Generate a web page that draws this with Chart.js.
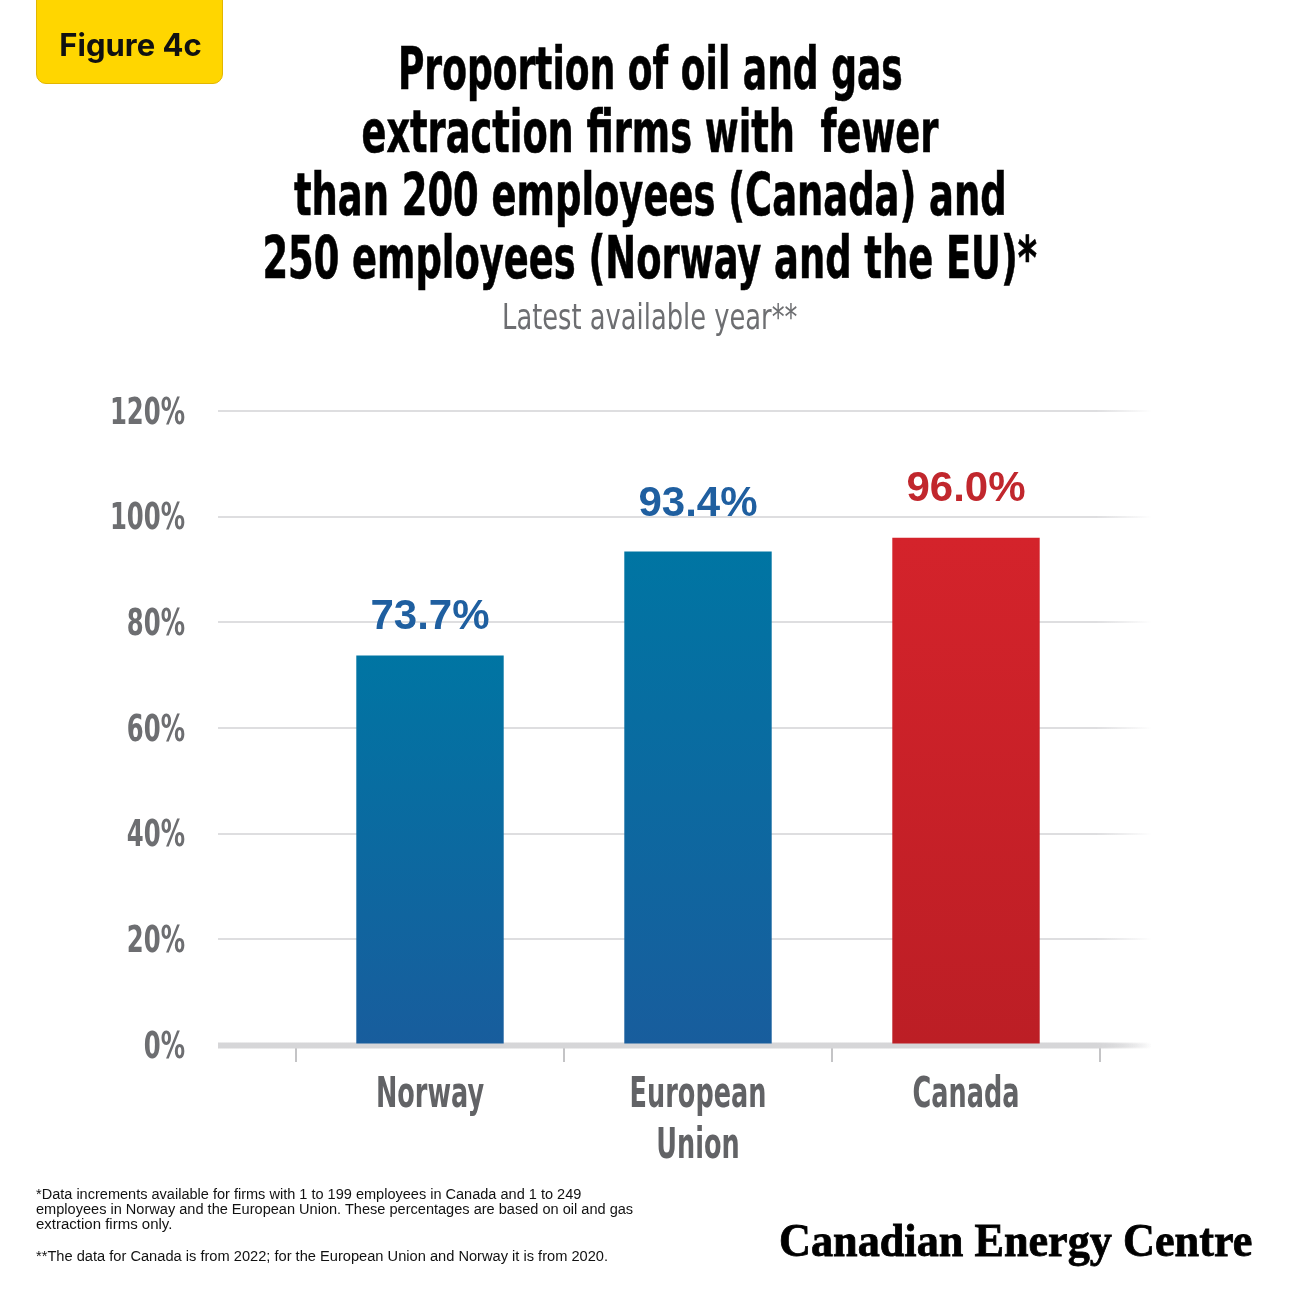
<!DOCTYPE html>
<html>
<head>
<meta charset="utf-8">
<script src="https://cdn.jsdelivr.net/npm/chart.js@4.4.1/dist/chart.umd.min.js"></script>
<style>
  html, body { margin: 0; padding: 0; background: #fff; }
  #page { position: relative; width: 1300px; height: 1300px; overflow: hidden; background: #fff; }
  #chartBox { position: absolute; left: 0; top: 0; width: 1300px; height: 1300px; }
  .abs { position: absolute; white-space: nowrap; }
  .center { left: 0; width: 1300px; text-align: center; }
  .fit { display: inline-block; }
  .fitL { display: inline-block; transform-origin: left center; }
  #badge { left: 36px; top: -12px; width: 187px; height: 96px; background: #ffd600; border: 1px solid #e3b600; border-radius: 10px; box-sizing: border-box; }
  #badgeText { left: 36px; top: 26px; width: 189px; text-align: center; font-family: Inter, "Liberation Sans", sans-serif; font-weight: 700; font-size: 31px; color: #111; }
  .title { font-family: "DejaVu Sans Condensed", "Liberation Sans", sans-serif; font-weight: 700; font-size: 58px; line-height: 63px; color: #000; -webkit-text-stroke: 0.6px #000; }
  .sub { font-family: "DejaVu Sans Condensed", "Liberation Sans", sans-serif; font-weight: 400; font-size: 36px; color: #6d6e71; }
  .foot { font-family: "Liberation Sans", Arial, sans-serif; font-size: 14px; line-height: 15px; color: #111; left: 36px; }
  #logo { font-family: "Liberation Serif", "DejaVu Serif", serif; font-weight: 700; font-size: 46px; color: #000; left: 779px; top: 1214px; -webkit-text-stroke: 0.8px #000; }
</style>
</head>
<body>
<div id="page">
  <div id="chartBox"><canvas id="c" width="1300" height="1300"></canvas></div>
  <div id="badge" class="abs"></div>
  <div id="badgeText" class="abs">Figure 4c</div>

  <div class="abs center title" style="top:38px"><span class="fit" data-w="505">Proportion of oil and gas</span></div>
  <div class="abs center title" style="top:101px"><span class="fit" data-w="577">extraction firms with&nbsp; fewer</span></div>
  <div class="abs center title" style="top:164px"><span class="fit" data-w="713">than 200 employees (Canada) and</span></div>
  <div class="abs center title" style="top:227px"><span class="fit" data-w="775">250 employees (Norway and the EU)*</span></div>
  <div class="abs center sub" style="top:296px"><span class="fit" data-w="295">Latest available year**</span></div>

  <div class="abs foot" style="top:1187px"><span class="fitL" data-w="545">*Data increments available for firms with 1 to 199 employees in Canada and 1 to 249</span></div>
  <div class="abs foot" style="top:1202px"><span class="fitL" data-w="597">employees in Norway and the European Union. These percentages are based on oil and gas</span></div>
  <div class="abs foot" style="top:1217px"><span class="fitL" data-w="136">extraction firms only.</span></div>
  <div class="abs foot" style="top:1249px"><span class="fitL" data-w="572">**The data for Canada is from 2022; for the European Union and Norway it is from 2020.</span></div>

  <div id="logo" class="abs"><span class="fitL" data-w="473">Canadian Energy Centre</span></div>
</div>

<script>
// ---- data ----
const categories = [['Norway'], ['European', 'Union'], ['Canada']];
const values = [73.7, 93.4, 96.0];
const valueLabels = ['73.7%', '93.4%', '96.0%'];
const yTicks = [0, 20, 40, 60, 80, 100, 120];
const yTickLabels = ['0%', '20%', '40%', '60%', '80%', '100%', '120%'];

// ---- styles ----
const blueTop = '#0075a3', blueBottom = '#185d9d';
const redTop = '#d4232b', redBottom = '#bc1e25';
const labelColors = ['#1f5fa0', '#1f5fa0', '#c1272d'];
const labelGaps = [27, 36, 37];

function fitTexts() {
  document.querySelectorAll('.fit, .fitL').forEach(el => {
    const target = parseFloat(el.dataset.w);
    const w = el.offsetWidth;
    if (w > 0) el.style.transform = 'scaleX(' + (target / w) + ')';
  });
}

// condense axis tick labels (narrow display face not installed)
const condensePlugin = {
  id: 'condense',
  beforeDraw(chart) {
    const ctx = chart.ctx;
    if (ctx.__origFill) return;
    const orig = ctx.fillText;
    ctx.__origFill = orig;
    ctx.fillText = function (text, x, y, mw) {
      if (!ctx.__condense) return orig.call(ctx, text, x, y, mw);
      const sx = ctx.textAlign === 'right' ? 0.73 : 0.66;
      const dy = ctx.textAlign === 'right' ? 3 : 0;
      ctx.save();
      ctx.translate(x, y + dy);
      ctx.scale(sx, 1);
      orig.call(ctx, text, 0, 0);
      ctx.restore();
    };
    ctx.__condense = true;
  },
  beforeDatasetsDraw(chart) { chart.ctx.__condense = false; },
  afterDatasetsDraw(chart) { chart.ctx.__condense = false; }
};

const gridPlugin = {
  id: 'extGrid',
  beforeDatasetsDraw(chart) {
    const ctx = chart.ctx;
    const y = chart.scales.y;
    const x0 = 218, x1 = 1152;
    ctx.save();
    yTicks.forEach(v => {
      const py = Math.round(y.getPixelForValue(v));
      const g = ctx.createLinearGradient(x0, 0, x1, 0);
      const col = v === 0 ? '214,214,216' : '222,222,224';
      g.addColorStop(0, 'rgba(' + col + ',1)');
      g.addColorStop(0.94, 'rgba(' + col + ',1)');
      g.addColorStop(1, 'rgba(' + col + ',0)');
      ctx.strokeStyle = g;
      ctx.lineWidth = v === 0 ? 5 : 2;
      ctx.beginPath();
      ctx.moveTo(x0, py);
      ctx.lineTo(x1, py);
      ctx.stroke();
    });
    ctx.restore();
  },
  afterDatasetsDraw(chart) {
    const ctx = chart.ctx;
    const meta = chart.getDatasetMeta(0);
    const y = chart.scales.y;
    const py0 = Math.round(y.getPixelForValue(0));
    ctx.save();
    const g = ctx.createLinearGradient(218, 0, 1152, 0);
    g.addColorStop(0, 'rgba(214,214,216,1)');
    g.addColorStop(0.94, 'rgba(214,214,216,1)');
    g.addColorStop(1, 'rgba(214,214,216,0)');
    ctx.strokeStyle = g;
    ctx.lineWidth = 5;
    ctx.beginPath();
    ctx.moveTo(218, py0 + 1);
    ctx.lineTo(1152, py0 + 1);
    ctx.stroke();
    ctx.font = '700 42px "Liberation Sans", Arial, sans-serif';
    ctx.textAlign = 'center';
    ctx.textBaseline = 'alphabetic';
    meta.data.forEach((bar, i) => {
      ctx.fillStyle = labelColors[i];
      ctx.fillText(valueLabels[i], bar.x, bar.y - labelGaps[i]);
    });
    ctx.restore();
  }
};

function barColor(context) {
  const chart = context.chart;
  const i = context.dataIndex;
  const top = i === 2 ? redTop : blueTop;
  const bottom = i === 2 ? redBottom : blueBottom;
  if (!chart.chartArea) return top;
  const ys = chart.scales.y;
  const yTop = ys.getPixelForValue(values[i]);
  const yBot = ys.getPixelForValue(0);
  const g = chart.ctx.createLinearGradient(0, yTop, 0, yBot);
  g.addColorStop(0, top);
  g.addColorStop(1, bottom);
  return g;
}

const narrow = '"DejaVu Sans Condensed", "Liberation Sans", sans-serif';

function build() {
  fitTexts();
  new Chart(document.getElementById('c'), {
    type: 'bar',
    data: {
      labels: categories,
      datasets: [{
        data: values,
        backgroundColor: barColor,
        borderWidth: 0,
        categoryPercentage: 1.0,
        barPercentage: 0.55
      }]
    },
    plugins: [condensePlugin, gridPlugin],
    options: {
      responsive: false,
      animation: false,
      devicePixelRatio: 1,
      layout: { padding: { left: 0, right: 200, top: 411, bottom: 0 } },
      plugins: { legend: { display: false }, tooltip: { enabled: false } },
      scales: {
        y: {
          min: 0, max: 120,
          afterBuildTicks: (s) => { s.ticks = yTicks.map(v => ({ value: v })); },
          afterFit: (s) => { s.width = 296; },
          grid: { display: false, drawTicks: false },
          border: { display: false },
          ticks: {
            padding: 111,
            color: '#6d6e71',
            font: { family: narrow, size: 37, weight: '700' },
            callback: (v) => yTickLabels[yTicks.indexOf(v)]
          }
        },
        x: {
          offset: true,
          afterFit: (s) => { s.height = 255; },
          border: { display: false },
          grid: {
            display: true,
            offset: true,
            drawOnChartArea: false,
            drawTicks: true,
            tickLength: 17,
            color: '#c4c4c6',
            lineWidth: 2
          },
          ticks: {
            padding: 8,
            color: '#626366',
            font: { family: narrow, size: 43, weight: '700', lineHeight: 1.19 },
            maxRotation: 0
          }
        }
      }
    }
  });
}

if (document.fonts && document.fonts.ready) {
  document.fonts.ready.then(build);
} else {
  build();
}
</script>
</body>
</html>
